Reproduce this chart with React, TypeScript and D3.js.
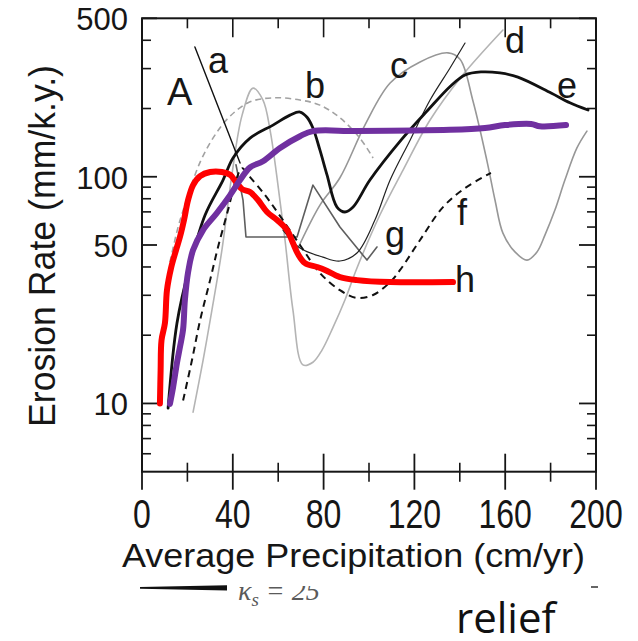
import React from 'react';
import * as d3 from 'd3';

type Pt = [number, number];

// Axis ticks
const xTicksMajor = [0, 40, 80, 120, 160, 200];
const xTicksMinor = [20, 60, 100, 140, 180];
const yTickLabels = [10, 50, 100, 500];
const yTicksMinor = [6, 7, 8, 9, 20, 30, 40, 60, 70, 80, 90, 200, 300, 400];

// Model curves: [precipitation (cm/yr), erosion rate (mm/k.y.)]
const curveA: Pt[] = [[23.3, 374], [43.2, 115]];
const curveB: Pt[] = [
  [12.3, 42], [15.9, 60], [18.9, 75], [25.6, 116], [32.2, 153], [38.8, 185], [47.6, 214],
  [58.6, 223], [69.6, 218], [78.4, 207], [87.2, 182], [96.0, 148], [101.8, 121],
];
const curveC: Pt[] = [
  [68.3, 47.5], [78.4, 75], [87.2, 99], [98.2, 169], [109.3, 259], [122.5, 321], [134.8, 352],
  [140.1, 330], [145.8, 216], [152, 117], [155.5, 79], [159, 56.4], [164.3, 46.6], [169.6, 42.9],
  [174, 46.6], [177.5, 55.3], [181.9, 71.3], [186.3, 96.7], [191.6, 134], [196, 159],
];
const curveD: Pt[] = [
  [22.5, 9.15], [26.9, 15.5], [30.8, 25.8], [35.2, 47.5], [39.6, 102], [44.1, 187], [48.9, 246],
  [53.3, 218], [56.4, 161], [59.5, 98.7], [63.0, 52.6], [66.5, 25.8], [70.9, 14.8], [75.3, 15.2],
  [79.3, 17.2], [84.1, 21.6], [89.4, 28.6], [94.7, 39.6], [104.8, 67.8], [115, 107], [126.9, 178],
  [140.5, 275], [159, 444],
];
const curveE: Pt[] = [
  [11.5, 9.53], [15.4, 22.6], [21.1, 40.8], [27.8, 67.8], [35.7, 96.7], [40.1, 121], [47.6, 148],
  [57.7, 169], [65.2, 187], [69.6, 193], [72.7, 183], [75.3, 164], [78.4, 131], [81.5, 102],
  [85.9, 73.5], [89.4, 69.9], [93, 73.5], [100.4, 96.7], [114.1, 145], [126, 197], [136.1, 252],
  [142.3, 281], [149.3, 290], [157.7, 287], [165.6, 275], [180.2, 234], [188.5, 212], [196.5, 197],
];
const curveF: Pt[] = [
  [18.1, 10.3], [22, 15.5], [25.6, 23.3], [30, 35], [33.5, 49], [37.9, 71.3], [41.4, 96.7],
  [44.1, 109], [47.6, 99.7], [54.2, 83], [59.9, 69.2], [69.6, 50], [78.4, 37.6], [87.2, 31.6],
  [94.7, 29.2], [101.8, 30.1], [109.3, 34.3], [113.7, 38.8], [122.5, 52.6], [132.6, 73.5],
  [142.3, 89.1], [153.7, 104],
];
const curveG: Pt[] = [
  [41.4, 113], [44.5, 78.9], [45.8, 54.2], [68.3, 54.2], [75.3, 91.9], [87.2, 60], [99.1, 42.9],
  [103.5, 49],
];
const curveThin: Pt[] = [
  [62.1, 58.2], [69.6, 48.5], [79.7, 44.2], [87.2, 42.5], [94.7, 46.1], [102.6, 64.4],
  [109.3, 96.7], [118.1, 145], [126.9, 218], [135.7, 302], [142.3, 389],
];
// Hand-drawn overlays
const curveH: Pt[] = [
  [7.9, 10], [8.2, 14], [8.6, 19], [10.1, 22.6], [11.0, 31.6], [12.8, 39.6], [15, 47.5],
  [16.7, 54.2], [18.5, 64.4], [20.3, 78.9], [22.5, 91.9], [25.6, 100.7], [30, 105], [35.2, 105],
  [38.8, 102], [41.4, 94.8], [44.1, 88.2], [47.6, 85.6], [51.1, 78.9], [55.1, 69.9], [59.5, 64.4],
  [63.9, 58.2], [66.5, 51], [68.7, 45.6], [71.8, 41.6], [77.1, 40], [80.6, 38.8], [87.2, 36.1],
  [94.7, 35], [109.3, 34.3], [137, 34.3],
];
const curvePurple: Pt[] = [
  [12.3, 9.95], [13.7, 11.8], [15.4, 15.1], [16.7, 17.7], [18.1, 21.2], [18.9, 28.6], [20.3, 37.9],
  [22.5, 47.5], [26.9, 58.2], [33, 69.2], [38.8, 83], [43.2, 96.7], [47.6, 110], [53.3, 117],
  [60.8, 134], [69.6, 151], [75.3, 159], [94.7, 159], [135.7, 161], [151.1, 164], [159.9, 169],
  [171.4, 171], [175.3, 167], [186.8, 169],
];

// Curve letters: [text, x, y] in data units (left edge, baseline)
const curveLabels: [string, number, number][] = [
  ['a', 29.1, 287], ['b', 71.8, 223], ['c', 109.3, 272], ['d', 159.9, 352], ['e', 182.8, 223],
  ['f', 138.8, 61.2], ['g', 107, 49], ['h', 137.9, 31],
];

const SANS = '"Liberation Sans", Arial, Helvetica, sans-serif';
const INK = '#161616';

const x = d3.scaleLinear().domain([0, 200]).range([142, 596]);
const y = d3.scaleLog().domain([5, 500]).range([471.7, 18.3]);

const smooth = d3
  .line<Pt>()
  .x((d) => x(d[0]))
  .y((d) => y(d[1]))
  .curve(d3.curveCatmullRom.alpha(0.5));
const straight = d3
  .line<Pt>()
  .x((d) => x(d[0]))
  .y((d) => y(d[1]));

const series: { data: Pt[]; stroke: string; width: number; dash?: string; gen: typeof smooth }[] = [
  { data: curveD, stroke: '#b4b4b4', width: 1.6, gen: smooth },
  { data: curveC, stroke: '#979797', width: 1.6, gen: smooth },
  { data: curveB, stroke: '#a2a2a2', width: 1.6, dash: '6 4', gen: smooth },
  { data: curveG, stroke: '#5e5e5e', width: 1.6, gen: straight },
  { data: curveThin, stroke: '#222', width: 1.2, gen: smooth },
  { data: curveA, stroke: '#111', width: 1.4, gen: straight },
  { data: curveF, stroke: '#111', width: 2, dash: '7 5', gen: smooth },
  { data: curveE, stroke: '#111', width: 2.8, gen: smooth },
  { data: curveH, stroke: '#ff0000', width: 6, gen: smooth },
  { data: curvePurple, stroke: '#7030a0', width: 6, gen: smooth },
];

export default function App() {
  const x0 = x(0);
  const x1 = x(200);
  const yTop = y(500);
  const yBot = y(5);
  return (
    <svg
      width={638}
      height={641}
      viewBox="0 0 638 641"
      style={{ position: 'absolute', left: 0, top: 0, background: '#fff' }}
    >
      <rect x={0} y={0} width={638} height={641} fill="#fff" />

      {/* slide text partly hidden behind the figure */}
      <text x={238} y={600} fontFamily='"Liberation Serif", "DejaVu Serif", serif' fontStyle="italic" fontSize={28} fill="#5a5a5a">
        κ<tspan fontSize={19} dy={6}>s</tspan>
        <tspan dy={-6}> = 25</tspan>
      </text>
      <rect x={0} y={0} width={638} height={586} fill="#fff" />
      <polygon points="140,587 227,585.3 227,590.5 140,588.8" fill="#111" />
      <line x1={591} x2={598} y1={587} y2={587} stroke="#333" strokeWidth={1.5} />
      <text x={456} y={633} fontFamily='"Open Sans", sans-serif' fontSize={42} fill="#111">
        relief
      </text>

      {/* curves */}
      <g fill="none" strokeLinejoin="round" strokeLinecap="round">
        {series.map((s, i) => (
          <path
            key={i}
            d={s.gen(s.data) || ''}
            stroke={s.stroke}
            strokeWidth={s.width}
            strokeDasharray={s.dash}
            strokeLinecap={s.dash ? 'butt' : 'round'}
          />
        ))}
      </g>

      {/* frame */}
      <g stroke={INK} fill="none">
        <rect x={x0} y={yTop} width={x1 - x0} height={yBot - yTop} strokeWidth={2} />
        {xTicksMajor.map((v) => (
          <line key={'xb' + v} x1={x(v)} x2={x(v)} y1={yBot - 18} y2={yBot + 18} strokeWidth={1.8} />
        ))}
        {xTicksMinor.map((v) => (
          <line key={'xbm' + v} x1={x(v)} x2={x(v)} y1={yBot - 9} y2={yBot + 10} strokeWidth={1.6} />
        ))}
        {xTicksMajor.map((v) => (
          <line key={'xt' + v} x1={x(v)} x2={x(v)} y1={yTop} y2={yTop + 19} strokeWidth={1.6} />
        ))}
        {xTicksMinor.map((v) => (
          <line key={'xtm' + v} x1={x(v)} x2={x(v)} y1={yTop} y2={yTop + 10} strokeWidth={1.6} />
        ))}
        {yTickLabels.map((v) => (
          <g key={'yl' + v}>
            <line x1={x0} x2={x0 + 15} y1={y(v)} y2={y(v)} strokeWidth={1.8} />
            <line x1={x1} x2={x1 - 17} y1={y(v)} y2={y(v)} strokeWidth={1.8} />
          </g>
        ))}
        {yTicksMinor.map((v) => (
          <g key={'ym' + v}>
            <line x1={x0} x2={x0 + 9} y1={y(v)} y2={y(v)} strokeWidth={1.6} />
            <line x1={x1} x2={x1 - 9} y1={y(v)} y2={y(v)} strokeWidth={1.6} />
          </g>
        ))}
      </g>

      {/* tick labels */}
      <g fontFamily={SANS} fill={INK}>
        {yTickLabels.map((v) => (
          <text key={'ytl' + v} x={128} y={y(v) + 12} textAnchor="end" fontSize={31}>
            {v}
          </text>
        ))}
        {xTicksMajor.map((v) => (
          <text
            key={'xtl' + v}
            transform={`translate(${x(v)},528) scale(1,1.25)`}
            textAnchor="middle"
            fontSize={32}
          >
            {v}
          </text>
        ))}
        <text x={122} y={567} fontSize={33} textLength={463} lengthAdjust="spacingAndGlyphs">
          Average Precipitation (cm/yr)
        </text>
        <text
          transform="translate(55,246) rotate(-90)"
          textAnchor="middle"
          fontSize={36}
          textLength={362}
          lengthAdjust="spacingAndGlyphs"
        >
          Erosion Rate (mm/k.y.)
        </text>
        <text x={x(11)} y={y(207)} fontSize={38}>
          A
        </text>
        {curveLabels.map(([t, vx, vy]) => (
          <text key={t} x={x(vx)} y={y(vy)} fontSize={36}>
            {t}
          </text>
        ))}
      </g>
    </svg>
  );
}
